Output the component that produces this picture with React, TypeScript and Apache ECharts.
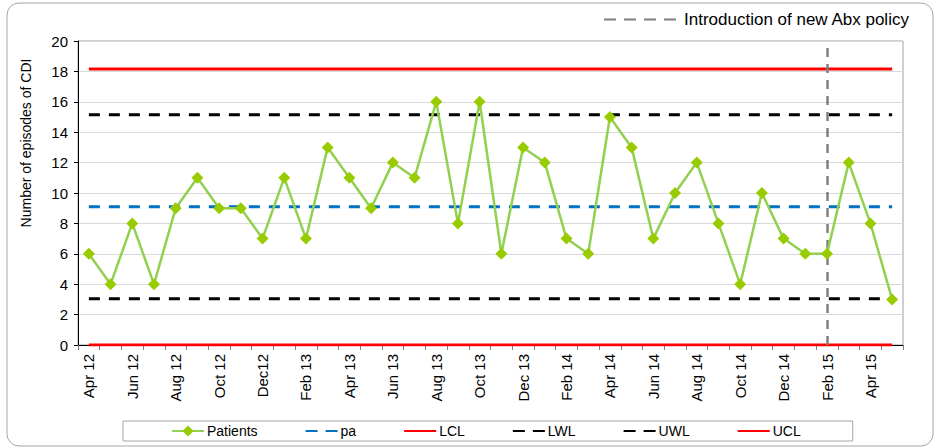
import React, { useEffect, useRef } from "react";
import * as echarts from "echarts";

const categories = [
  "Apr 12", "May 12", "Jun 12", "Jul 12", "Aug 12", "Sep 12", "Oct 12", "Nov 12", "Dec12",
  "Jan 13", "Feb 13", "Mar 13", "Apr 13", "May 13", "Jun 13", "Jul 13", "Aug 13", "Sep 13",
  "Oct 13", "Nov 13", "Dec 13", "Jan 14", "Feb 14", "Mar 14", "Apr 14", "May 14", "Jun 14",
  "Jul 14", "Aug 14", "Sep 14", "Oct 14", "Nov 14", "Dec 14", "Jan 15", "Feb 15", "Mar 15",
  "Apr 15", "May 15",
];

const patients = [
  6, 4, 8, 4, 9, 11, 9, 9, 7, 11, 7, 13, 11, 9, 12, 11, 16, 8, 16, 6, 13, 12, 7, 6, 15, 13, 7,
  10, 12, 8, 4, 10, 7, 6, 6, 12, 8, 3,
];

const PA = 9.1;
const LCL = 0;
const LWL = 3.05;
const UWL = 15.15;
const UCL = 18.15;
const policyMonth = "Feb 15";
const policyLabel = "Introduction of new Abx policy";

const FONT = "Liberation Sans, Arial, sans-serif";

export default function App() {
  const ref = useRef<HTMLDivElement>(null);

  useEffect(() => {
    if (!ref.current) return;
    const chart = echarts.init(ref.current, undefined, { renderer: "svg" });
    const flat = (v: number) => categories.map(() => v);
    const dash = [11, 9];
    const legendDash = [12, 8];
    const noSym = { opacity: 0 };

    chart.setOption({
      animation: false,
      textStyle: { fontFamily: FONT, color: "#000" },
      graphic: [
        {
          type: "rect",
          shape: { x: 7, y: 3, width: 926, height: 443, r: 12 },
          style: { fill: "none", stroke: "#A6A6A6", lineWidth: 1 },
          silent: true,
        },
        {
          type: "text",
          x: 26,
          y: 143,
          rotation: Math.PI / 2,
          style: {
            text: "Number of episodes of CDI",
            font: `14px ${FONT}`,
            fill: "#000",
            align: "center",
            verticalAlign: "middle",
          },
        },
      ],
      grid: {
        left: 78,
        right: 32,
        top: 41,
        bottom: 103,
        show: true,
        borderColor: "#A0A0A0",
        borderWidth: 1,
      },
      legend: [
        {
          data: [
            { name: "Patients" },
            { name: "pa", itemStyle: noSym, lineStyle: { type: legendDash } },
            { name: "LCL", itemStyle: noSym },
            { name: "LWL", itemStyle: noSym, lineStyle: { type: legendDash } },
            { name: "UWL", itemStyle: noSym, lineStyle: { type: legendDash } },
            { name: "UCL", itemStyle: noSym },
          ],
          left: 123,
          top: 421,
          orient: "horizontal",
          padding: [3, 52, 3, 48],
          itemGap: 47,
          itemWidth: 32,
          itemHeight: 14,
          borderColor: "#A6A6A6",
          borderWidth: 1,
          textStyle: { fontSize: 14, fontFamily: FONT, color: "#000", padding: [0, 0, 0, -2] },
        },
        {
          data: [
            { name: policyLabel, itemStyle: noSym, lineStyle: { type: legendDash } },
          ],
          left: 603,
          top: 11,
          itemWidth: 72,
          itemHeight: 16,
          padding: 0,
          textStyle: { fontSize: 17, fontFamily: FONT, color: "#000", padding: [0, 0, 0, 3] },
        },
      ],
      xAxis: {
        type: "category",
        data: categories,
        boundaryGap: true,
        axisLine: { lineStyle: { color: "#000", width: 1 } },
        axisTick: { show: true, interval: 0, length: 5, lineStyle: { color: "#808080" } },
        axisLabel: {
          interval: 1,
          rotate: 90,
          fontSize: 15,
          fontFamily: FONT,
          color: "#000",
          margin: 9,
        },
        splitLine: { show: false },
      },
      yAxis: {
        type: "value",
        min: 0,
        max: 20,
        interval: 2,
        axisLine: { show: true, lineStyle: { color: "#000", width: 1 } },
        axisTick: { show: true, length: 4, lineStyle: { color: "#000" } },
        axisLabel: { fontSize: 15, fontFamily: FONT, color: "#000", margin: 10 },
        splitLine: { show: true, lineStyle: { color: "#D9D9D9", width: 1 } },
      },
      series: [
        {
          name: "pa",
          type: "line",
          data: flat(PA),
          symbol: "none",
          z: 3,
          lineStyle: { color: "#0070C0", width: 3, type: dash },
          itemStyle: { color: "#0070C0" },
        },
        {
          name: "LCL",
          type: "line",
          data: flat(LCL),
          symbol: "none",
          z: 3,
          lineStyle: { color: "#FF0000", width: 3 },
          itemStyle: { color: "#FF0000" },
        },
        {
          name: "LWL",
          type: "line",
          data: flat(LWL),
          symbol: "none",
          z: 3,
          lineStyle: { color: "#000000", width: 3, type: dash },
          itemStyle: { color: "#000000" },
        },
        {
          name: "UWL",
          type: "line",
          data: flat(UWL),
          symbol: "none",
          z: 3,
          lineStyle: { color: "#000000", width: 3, type: dash },
          itemStyle: { color: "#000000" },
        },
        {
          name: "UCL",
          type: "line",
          data: flat(UCL),
          symbol: "none",
          z: 3,
          lineStyle: { color: "#FF0000", width: 3 },
          itemStyle: { color: "#FF0000" },
        },
        {
          name: "Patients",
          type: "line",
          data: patients,
          symbol: "diamond",
          symbolSize: 12,
          z: 5,
          lineStyle: { color: "#92D050", width: 2.5 },
          itemStyle: { color: "#99CC00" },
        },
        {
          name: policyLabel,
          type: "line",
          data: [],
          symbol: "none",
          z: 6,
          lineStyle: { color: "#808080", width: 2.5, type: [9, 7] },
          itemStyle: { color: "#808080" },
          markLine: {
            silent: true,
            symbol: "none",
            label: { show: false },
            lineStyle: { color: "#808080", width: 2.5, type: [9, 7] },
            data: [{ xAxis: policyMonth }],
          },
        },
      ],
    });

    return () => chart.dispose();
  }, []);

  return (
    <div
      ref={ref}
      style={{ position: "absolute", left: 0, top: 0, width: 935, height: 448 }}
    />
  );
}
